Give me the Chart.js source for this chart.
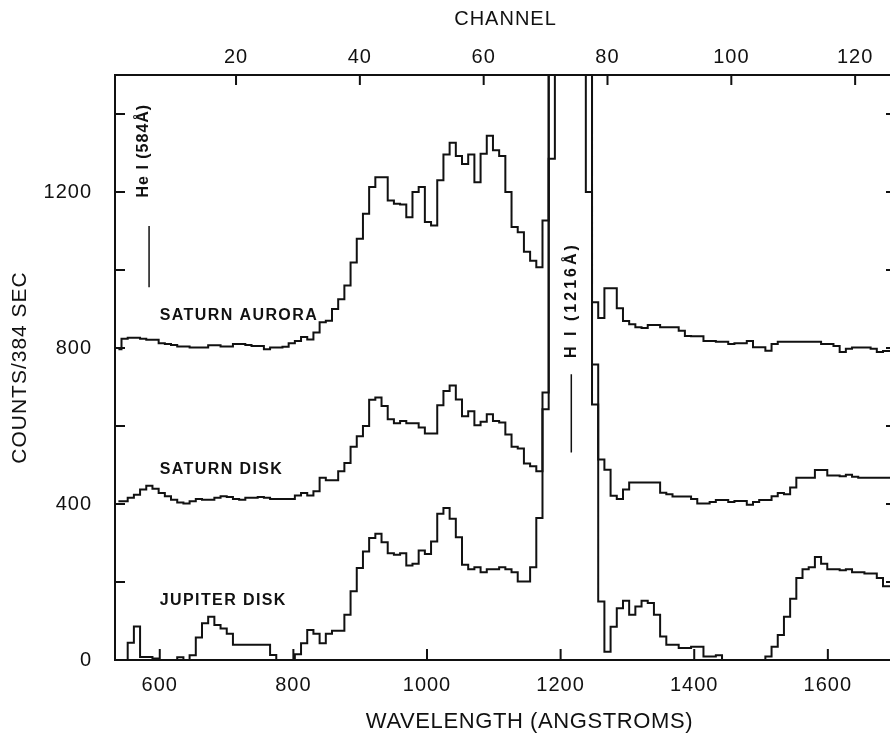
<!DOCTYPE html>
<html>
<head>
<meta charset="utf-8">
<title>Voyager UVS spectra</title>
<script src="https://cdn.jsdelivr.net/npm/chart.js@4.4.1/dist/chart.umd.min.js"></script>
<style>
  html, body { margin: 0; padding: 0; background: #fff; overflow: hidden; }
  #wrap { width: 897px; height: 736px; }
</style>
</head>
<body>
<div id="wrap"><canvas id="grafico" width="897" height="736"></canvas></div>
<script>
// channel numbers (x of every step)
const channels = Array.from({ length: 126 }, (_, i) => i + 1);

// counts per channel (1600 = off the top of the plot)
const saturnAurora = [
  797, 824, 826, 826, 824, 821, 821, 812, 810, 808,
  804, 804, 801, 801, 801, 807, 807, 804, 804, 810,
  810, 808, 805, 805, 797, 801, 801, 803, 812, 818,
  828, 822, 840, 866, 870, 900, 925, 960, 1019, 1080,
  1144, 1213, 1238, 1238, 1178, 1170, 1168, 1135, 1200, 1213,
  1123, 1114, 1230, 1296, 1326, 1292, 1272, 1296, 1225, 1298,
  1344, 1307, 1292, 1200, 1110, 1097, 1047, 1024, 1007, 1127,
  1600, 1600, 1600, 1600, 1600, 1600, 1600, 917, 877, 953,
  953, 902, 869, 861, 853, 851, 859, 859, 853, 853,
  853, 844, 831, 830, 830, 818, 818, 816, 816, 810,
  812, 812, 818, 802, 802, 793, 810, 816, 816, 816,
  816, 816, 816, 816, 810, 810, 805, 790, 798, 801,
  801, 801, 798, 790, 792, 792
];

const saturnDisk = [
  407, 407, 416, 424, 437, 447, 439, 428, 420, 411,
  404, 401, 407, 413, 411, 411, 416, 420, 418, 413,
  411, 416, 416, 418, 416, 413, 413, 413, 413, 422,
  428, 422, 433, 467, 461, 461, 484, 505, 547, 574,
  600, 667, 673, 651, 617, 607, 613, 607, 607, 596,
  581, 581, 653, 690, 704, 668, 625, 638, 602, 611,
  630, 613, 609, 578, 547, 542, 504, 497, 484, 643,
  1285, 1600, 1600, 1600, 1600, 1600, 1600, 758, 514, 488,
  421, 413, 437, 455, 455, 455, 455, 455, 429, 425,
  419, 419, 419, 413, 401, 401, 405, 410, 410, 405,
  408, 408, 398, 405, 410, 410, 420, 428, 425, 442,
  467, 467, 467, 487, 487, 473, 473, 471, 475, 470,
  467, 467, 467, 467, 467, 467
];

const jupiterDisk = [
  0, 0, 44, 86, 8, 8, 4, 0, 0, 0,
  7, 0, 12, 58, 94, 111, 90, 81, 67, 39,
  39, 39, 39, 39, 39, 13, 0, 0, 0, 15,
  43, 77, 67, 43, 67, 75, 75, 116, 176, 236,
  278, 313, 324, 302, 274, 270, 274, 242, 247, 281,
  272, 304, 375, 390, 362, 315, 244, 233, 238, 225,
  233, 233, 238, 233, 225, 201, 201, 238, 364, 686,
  1600, 1600, 1600, 1600, 1600, 1600, 1200, 655, 150, 21,
  85, 133, 152, 116, 137, 152, 146, 116, 60, 39,
  39, 31, 31, 34, 34, 9, 9, 12, 0, 0,
  0, 0, 0, 0, 0, 9, 34, 64, 111, 157,
  210, 233, 238, 264, 247, 233, 233, 230, 233, 225,
  225, 222, 222, 210, 189, 189
];

const channelTicks = [20, 40, 60, 80, 100, 120];
const wavelengthTicks = [600, 800, 1000, 1200, 1400, 1600];
const countTicks = [0, 200, 400, 600, 800, 1000, 1200, 1400];
const countLabels = [0, 400, 800, 1200];

const ink = "#111";
const fam = "'Liberation Sans', Arial, Helvetica, sans-serif";

function toPoints(values){
    return channels.map((c, i) => ({ x: c, y: values[i] }));
}

function serie(label, values){
    return {
        label: label,
        data: toPoints(values),
        xAxisID: "x",
        yAxisID: "y",
        stepped: "middle",
        borderColor: ink,
        borderWidth: 2,
        borderJoinStyle: "miter",
        pointRadius: 0,
        fill: false
    };
}

function rotatedText(ctx, text, px, py, spacing){
    ctx.save();
    ctx.translate(px, py);
    ctx.rotate(-Math.PI / 2);
    ctx.letterSpacing = spacing;
    ctx.fillText(text, 0, 0);
    ctx.restore();
}

// frame, inward ticks and the notes of the figure
const frameAndNotes = {
    id: "frameAndNotes",
    beforeDraw(chart){
        chart.ctx.letterSpacing = "1px";
    },
    afterDraw(chart){
        const ctx = chart.ctx;
        const a = chart.chartArea;
        const xc = chart.scales.x;
        const xw = chart.scales.x2;
        const y = chart.scales.y;

        ctx.save();
        ctx.strokeStyle = ink;
        ctx.fillStyle = ink;
        ctx.lineWidth = 2;
        ctx.strokeRect(a.left, a.top, a.right - a.left, a.bottom - a.top);

        ctx.beginPath();
        countTicks.forEach(v => {
            const py = y.getPixelForValue(v);
            ctx.moveTo(a.left, py); ctx.lineTo(a.left + 10, py);
            ctx.moveTo(a.right, py); ctx.lineTo(a.right - 10, py);
        });
        channelTicks.forEach(v => {
            const px = xc.getPixelForValue(v);
            ctx.moveTo(px, a.top); ctx.lineTo(px, a.top + 10);
        });
        wavelengthTicks.forEach(v => {
            const px = xw.getPixelForValue(v);
            ctx.moveTo(px, a.bottom); ctx.lineTo(px, a.bottom - 11);
        });
        ctx.stroke();

        // line markers
        ctx.lineWidth = 1.5;
        const he = xw.getPixelForValue(584);
        const hl = xw.getPixelForValue(1216);
        ctx.beginPath();
        ctx.moveTo(he, y.getPixelForValue(1113));
        ctx.lineTo(he, y.getPixelForValue(956));
        ctx.moveTo(hl, y.getPixelForValue(733));
        ctx.lineTo(hl, y.getPixelForValue(532));
        ctx.stroke();

        ctx.textAlign = "center";
        ctx.textBaseline = "middle";
        ctx.font = "bold 16px " + fam;
        rotatedText(ctx, "He I (584Å)", he - 5, y.getPixelForValue(1306), "1px");
        rotatedText(ctx, "H I (1216Å)", hl, y.getPixelForValue(923), "3px");

        // series names
        ctx.textAlign = "left";
        ctx.font = "bold 16px " + fam;
        ctx.letterSpacing = "1.4px";
        const lx = xw.getPixelForValue(600);
        ctx.fillText("SATURN AURORA", lx, y.getPixelForValue(882));
        ctx.fillText("SATURN DISK", lx, y.getPixelForValue(488));
        ctx.fillText("JUPITER DISK", lx, y.getPixelForValue(152));

        // bottom axis title
        ctx.textAlign = "center";
        ctx.font = "22px " + fam;
        ctx.letterSpacing = "0.6px";
        ctx.fillText("WAVELENGTH (ANGSTROMS)", (a.left + a.right) / 2 + 24, chart.height - 14);
        ctx.restore();
    }
};

const tickFont = { family: fam, size: 20 };
const plain = v => String(v);

new Chart(document.getElementById("grafico"), {
    type: "line",
    data: {
        datasets: [
            serie("SATURN AURORA", saturnAurora),
            serie("SATURN DISK", saturnDisk),
            serie("JUPITER DISK", jupiterDisk)
        ]
    },
    options: {
        responsive: false,
        animation: false,
        layout: { padding: { left: 0, right: 1, top: 0, bottom: 0 } },
        plugins: {
            legend: { display: false },
            tooltip: { enabled: false }
        },
        scales: {
            x: {
                type: "linear",
                position: "top",
                min: 0.45,
                max: 126.6,
                afterBuildTicks: s => { s.ticks = channelTicks.map(v => ({ value: v })); },
                afterFit: s => { s.height = 75; },
                grid: { display: false, drawTicks: false },
                border: { display: false },
                ticks: { padding: 6, font: tickFont, color: ink, autoSkip: false, maxRotation: 0, callback: plain },
                title: {
                    display: true,
                    text: "CHANNEL",
                    color: ink,
                    font: { family: fam, size: 20 },
                    padding: { top: 7, bottom: 0 }
                }
            },
            x2: {
                type: "linear",
                position: "bottom",
                min: 533,
                max: 1702,
                afterBuildTicks: s => { s.ticks = wavelengthTicks.map(v => ({ value: v })); },
                afterFit: s => { s.height = 76; },
                grid: { display: false, drawTicks: false },
                border: { display: false },
                ticks: { padding: 13, font: tickFont, color: ink, autoSkip: false, maxRotation: 0, callback: plain }
            },
            y: {
                type: "linear",
                position: "left",
                min: 0,
                max: 1500,
                afterBuildTicks: s => { s.ticks = countTicks.map(v => ({ value: v })); },
                afterFit: s => { s.width = 115; },
                grid: { display: false, drawTicks: false },
                border: { display: false },
                ticks: {
                    padding: 23,
                    font: tickFont,
                    color: ink,
                    autoSkip: false,
                    callback: v => countLabels.includes(v) ? String(v) : ""
                },
                title: {
                    display: true,
                    text: "COUNTS/384 SEC",
                    color: ink,
                    font: { family: fam, size: 21 },
                    padding: { top: 8, bottom: 0 }
                }
            }
        }
    },
    plugins: [frameAndNotes]
});
</script>
</body>
</html>
